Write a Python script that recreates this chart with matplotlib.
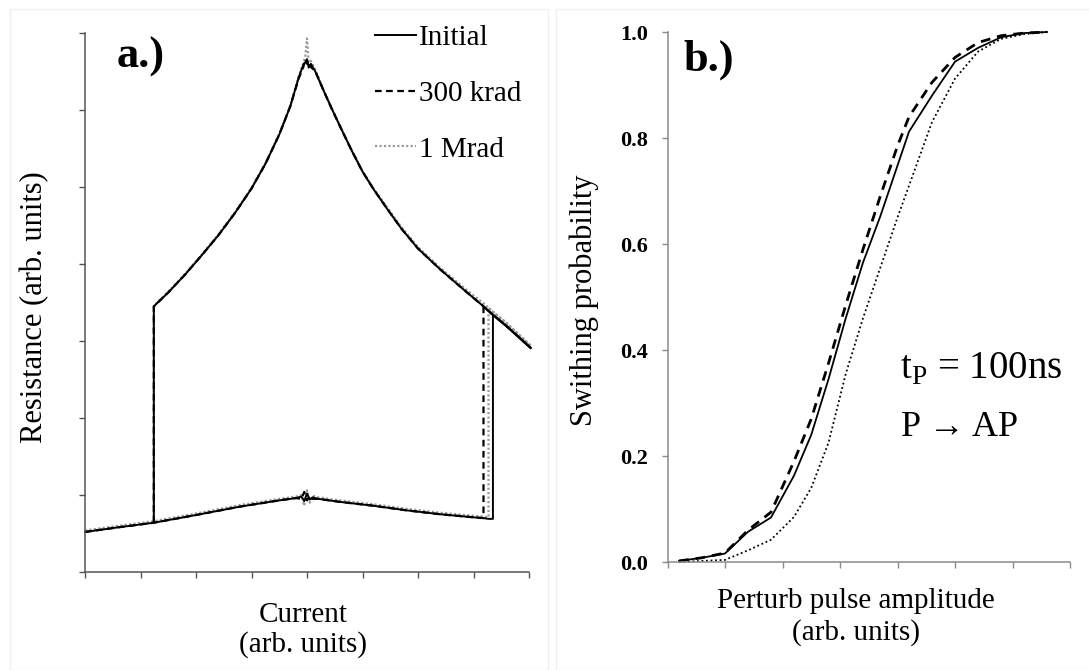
import matplotlib
matplotlib.use("Agg")
import matplotlib.pyplot as plt
from matplotlib.patches import Rectangle

plt.rcParams['font.family'] = ['Liberation Serif', 'DejaVu Serif']
plt.rcParams['mathtext.fontset'] = 'custom'
plt.rcParams['mathtext.rm'] = 'Liberation Serif'

# ---- panel a: R(I) hysteresis loops ----
labels = ['Initial', '300 krad', '1 Mrad']
current_lo = [0.0, 0.6, 1.24, 2.0, 2.8, 3.5, 3.8, 3.9, 3.95, 4.0, 4.05, 4.1, 4.2,
              4.6, 5.2, 5.8, 6.4, 7.0, 7.18, 7.27, 7.35]
r_lo_init = [0.52, 0.58, 0.64, 0.74, 0.85, 0.93, 0.96, 0.98, 0.92, 1.02, 0.94, 0.97, 0.95,
             0.91, 0.86, 0.80, 0.75, 0.71, 0.70, 0.69, 0.69]
r_lo_300k = [0.52, 0.58, 0.64, 0.74, 0.85, 0.93, 0.96, 0.95, 1.04, 0.93, 0.99, 0.95, 0.95,
             0.91, 0.86, 0.80, 0.75, 0.71, 0.70, 0.69, 0.69]
r_lo_1M = [0.54, 0.60, 0.66, 0.76, 0.87, 0.95, 0.98, 1.00, 0.86, 1.06, 0.90, 0.99, 0.97,
           0.93, 0.88, 0.82, 0.77, 0.73, 0.72, 0.71, 0.71]

current_hi = [1.24, 1.5, 1.8, 2.1, 2.4, 2.7, 3.0, 3.25, 3.5, 3.7, 3.85, 3.93, 3.97, 4.0,
              4.03, 4.07, 4.15, 4.3, 4.45, 4.6, 4.8, 5.0, 5.2, 5.45, 5.7, 6.0, 6.4, 6.9,
              7.18, 7.27, 7.35, 7.6, 8.03]
r_hi_init = [3.45, 3.63, 3.86, 4.11, 4.37, 4.66, 4.98, 5.30, 5.68, 6.05, 6.42, 6.58, 6.62, 6.66,
             6.55, 6.60, 6.50, 6.25, 6.01, 5.78, 5.48, 5.20, 4.97, 4.71, 4.46, 4.20, 3.93, 3.62,
             3.45, 3.39, 3.34, 3.19, 2.91]
r_hi_300k = [3.45, 3.63, 3.86, 4.11, 4.37, 4.66, 4.98, 5.30, 5.68, 6.05, 6.41, 6.55, 6.66, 6.60,
             6.64, 6.56, 6.50, 6.25, 6.01, 5.78, 5.48, 5.20, 4.97, 4.71, 4.46, 4.20, 3.93, 3.62,
             3.45, 3.39, 3.34, 3.19, 2.91]
r_hi_1M = [3.46, 3.64, 3.87, 4.12, 4.38, 4.67, 4.99, 5.31, 5.69, 6.06, 6.44, 6.60, 6.70, 6.93,
           6.62, 6.64, 6.52, 6.26, 6.02, 5.79, 5.49, 5.21, 4.98, 4.73, 4.48, 4.22, 3.95, 3.65,
           3.49, 3.43, 3.38, 3.23, 2.94]

switch_up = [7.35, 7.18, 7.27]   # P -> AP switching current of each loop
switch_down = 1.24               # AP -> P switching current

# ---- panel b: switching probability ----
amp = [0.2, 0.6, 1.0, 1.4, 1.8, 2.2, 2.5, 2.8, 3.1, 3.4, 3.7, 4.0, 4.2, 4.6, 5.0, 5.4,
       5.8, 6.2, 6.6]
p_init = [0.002, 0.008, 0.016, 0.057, 0.084, 0.163, 0.24, 0.345, 0.46, 0.565, 0.652, 0.748,
          0.812, 0.88, 0.944, 0.97, 0.99, 0.998, 1.0]
p_300k = [0.002, 0.008, 0.017, 0.06, 0.094, 0.19, 0.27, 0.375, 0.485, 0.59, 0.69, 0.785,
          0.84, 0.905, 0.952, 0.98, 0.993, 0.998, 1.0]
p_1M = [0.0, 0.002, 0.004, 0.022, 0.042, 0.085, 0.14, 0.225, 0.355, 0.46, 0.555, 0.65,
        0.71, 0.83, 0.912, 0.963, 0.987, 0.996, 1.0]

W, H = 1089, 670
FS = 21


def px_axes(fig, left, top, right, bottom):
    return fig.add_axes([left / W, 1 - bottom / H, (right - left) / W, (bottom - top) / H])


def style_axes(ax, color):
    for s in ['top', 'right']:
        ax.spines[s].set_visible(False)
    for s in ['left', 'bottom']:
        ax.spines[s].set_color(color)
        ax.spines[s].set_linewidth(1.1)
    ax.tick_params(direction='out', color=color, length=4.5, width=1.0)


fig = plt.figure(figsize=(W / 100, H / 100), dpi=100)
fig.patches.append(Rectangle((10 / W, 0), 538 / W, 1 - 9 / H, transform=fig.transFigure,
                             fill=False, edgecolor='#f0f0f0', lw=1.0))
fig.patches.append(Rectangle((556 / W, 0), 540 / W, 1 - 9 / H, transform=fig.transFigure,
                             fill=False, edgecolor='#f0f0f0', lw=1.0))

# panel a
ax = px_axes(fig, 85, 33, 529, 572)
style_axes(ax, '#555555')
styles = [dict(color='black', lw=1.4, ls='-'),
          dict(color='black', lw=1.6, ls=(0, (3, 2))),
          dict(color='#9a9a9a', lw=1.6, ls=(0, (1, 1)))]
r_lo = [r_lo_init, r_lo_300k, r_lo_1M]
r_hi = [r_hi_init, r_hi_300k, r_hi_1M]
handles = [None] * 3
for i in [2, 1, 0]:
    sw = switch_up[i]
    # sweep up along the low branch, jump at sw, go on along the high branch
    xs = [c for c in current_lo if c <= sw] + [c for c in current_hi if c >= sw]
    ys = [r for c, r in zip(current_lo, r_lo[i]) if c <= sw] + \
         [r for c, r in zip(current_hi, r_hi[i]) if c >= sw]
    handles[i], = ax.plot(xs, ys, label=labels[i], clip_on=False, **styles[i])
    # sweep down along the high branch, drop at switch_down
    k = current_lo.index(switch_down)
    ax.plot([switch_down] + current_hi, [r_lo[i][k]] + r_hi[i], clip_on=False, **styles[i])

ax.set_xlim(0, 8)
ax.set_ylim(0, 7)
ax.set_xticks(range(0, 9))
ax.set_yticks(range(0, 8))
ax.set_xticklabels([])
ax.set_yticklabels([])
ax.set_xlabel('Current\n(arb. units)', fontsize=FS, linespacing=1.18, va='center')
ax.xaxis.set_label_coords((303 - 85) / 444, (572 - 630) / 539)
ax.set_ylabel('Resistance (arb. units)', fontsize=22, va='center')
ax.yaxis.set_label_coords((35 - 85) / 444, (572 - 307) / 539)
fig.text(117 / W, 1 - 57 / H, 'a.)', fontsize=32, fontweight='bold', va='center', ha='left')
fig.legend(handles=handles, labels=labels, loc='upper left',
           bbox_to_anchor=(375 / W, 1 - 25 / H), bbox_transform=fig.transFigure,
           frameon=False, fontsize=FS, handlelength=1.4, handletextpad=0.1,
           labelspacing=1.0, borderpad=0, borderaxespad=0)

# panel b
bx = px_axes(fig, 667.5, 32, 1070, 562)
style_axes(bx, '#8a8a8a')
bx.plot(amp, p_1M, color='black', lw=1.3, ls=(0, (1, 1.5)), clip_on=False)
bx.plot(amp, p_init, color='black', lw=1.3, ls='-', clip_on=False)
bx.plot(amp, p_300k, color='black', lw=2.0, ls=(0, (3.5, 2.5)), clip_on=False)
bx.set_xlim(0, 7)
bx.set_ylim(0, 1)
bx.set_xticks(range(0, 8))
bx.set_xticklabels([])
bx.set_yticks([0, 0.2, 0.4, 0.6, 0.8, 1.0])
bx.set_yticklabels(['%.1f' % v for v in [0, 0.2, 0.4, 0.6, 0.8, 1.0]],
                   fontsize=16, fontweight='bold')
bx.tick_params(axis='y', pad=9.5)
bx.set_xlabel('Perturb pulse amplitude\n(arb. units)', fontsize=FS, linespacing=1.22, va='center')
bx.xaxis.set_label_coords((856 - 667.5) / 402.5, (562 - 617) / 530)
bx.set_ylabel('Swithing probability', fontsize=22, va='center')
bx.yaxis.set_label_coords((584 - 667.5) / 402.5, (562 - 300) / 530)
fig.text(683 / W, 1 - 60 / H, 'b.)', fontsize=32, fontweight='bold', va='center', ha='left')
fig.text(900 / W, 1 - 369 / H, r't$_{\mathrm{P}}$ = 100ns', fontsize=28, va='center', ha='left')
fig.text(901 / W, 1 - 427 / H, 'P \u2192 AP', fontsize=26, va='center', ha='left')

fig.savefig('out.png', dpi=100)
